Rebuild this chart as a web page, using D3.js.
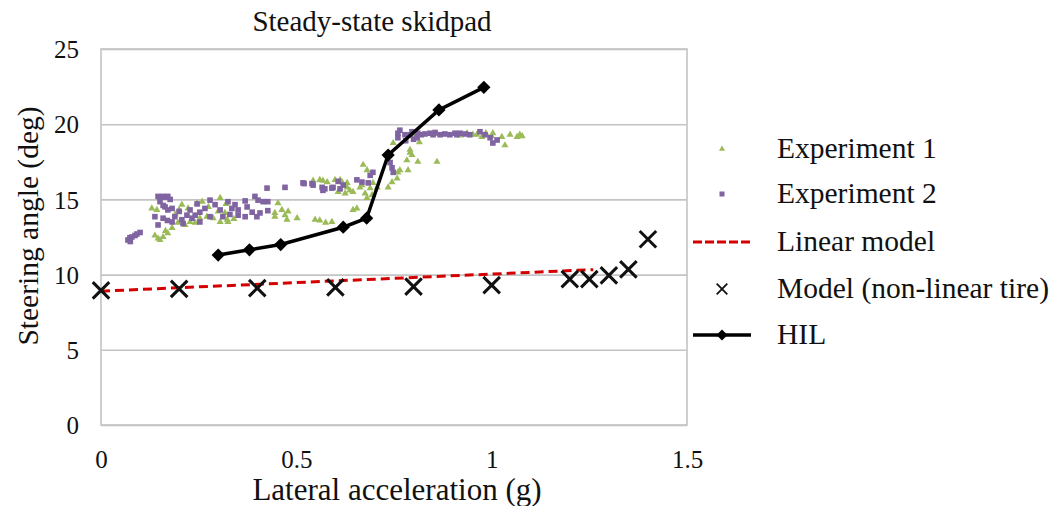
<!DOCTYPE html>
<html>
<head>
<meta charset="utf-8">
<script src="https://cdn.jsdelivr.net/npm/d3@7"></script>
<style>
  html, body { margin: 0; padding: 0; background: #fff; }
  svg text { font-family: "Liberation Serif", "DejaVu Serif", "Noto Serif", serif; fill: #111; }
</style>
</head>
<body>
<div id="chart"></div>
<script>
// ── data ───────────────────────────────────────────────────────
const X_TICKS = [0, 0.5, 1, 1.5];
const X_TICK_LABELS = ["0", "0.5", "1", "1.5"];
const Y_TICKS = [0, 5, 10, 15, 20, 25];

// Experiment 1 — [lateral acc (g), steering angle (deg)]
const EXP1 = [
  [0.13,14.4],[0.143,14.3],[0.138,12.6],[0.146,12.4],[0.159,12.5],[0.151,12.3],[0.171,12.75],
  [0.182,13.1],[0.197,13.45],[0.215,13.3],[0.228,13.5],[0.241,13.45],[0.253,13.75],[0.271,13.85],
  [0.287,13.75],[0.305,13.5],[0.323,13.65],[0.246,14.75],[0.259,14.85],[0.305,15.1],[0.207,14.65],
  [0.223,14.4],[0.19,14.0],[0.165,12.9],[0.2,14.3],[0.275,14.5],[0.34,13.7],[0.32,14.7],[0.3,14.2],
  [0.325,13.5],[0.317,14.1],[0.453,14.75],[0.463,14.3],[0.445,14.1],[0.471,13.95],[0.476,13.65],
  [0.445,13.85],[0.479,14.2],[0.502,13.75],[0.548,13.65],[0.591,13.5],[0.56,13.6],[0.575,13.45],
  [0.543,16.25],[0.568,16.25],[0.56,16.3],[0.579,16.15],[0.612,16.3],[0.63,16.1],[0.637,15.6],
  [0.645,15.5],[0.663,15.8],[0.671,17.3],[0.681,16.95],[0.668,15.95],[0.689,15.75],[0.676,15.4],
  [0.681,15.1],[0.655,14.4],[0.645,14.3],[0.599,16.3],[0.617,16.15],[0.63,15.8],[0.625,15.4],
  [0.607,15.5],[0.694,15.3],[0.707,15.8],[0.696,16.1],[0.735,15.8],[0.745,16.15],[0.758,16.4],
  [0.76,16.8],[0.765,16.95],[0.786,16.95],[0.783,17.6],[0.811,17.5],[0.796,17.95],[0.791,18.1],
  [0.791,18.3],[0.748,18.75],[0.86,17.5],[0.815,18.8],[0.8,19.3],[0.86,19.35],[0.92,19.25],
  [0.937,19.4],[0.952,19.3],[0.962,19.3],[0.975,19.15],[0.985,19.4],[1.0,19.2],[1.003,19.4],
  [1.026,19.15],[1.034,18.6],[1.047,19.3],[1.065,19.15],[1.072,19.3],[1.078,19.2]
];

// Experiment 2
const EXP2 = [
  [0.069,12.3],[0.074,12.45],[0.079,12.5],[0.087,12.6],[0.092,12.7],[0.1,12.8],[0.075,12.2],
  [0.146,15.2],[0.151,15.15],[0.159,15.2],[0.164,15.15],[0.171,15.2],[0.177,15.0],[0.151,14.85],
  [0.164,14.5],[0.171,14.3],[0.182,14.4],[0.159,14.6],[0.138,13.85],[0.159,13.75],[0.182,13.5],
  [0.189,13.85],[0.207,13.65],[0.22,13.95],[0.233,13.75],[0.241,13.95],[0.253,14.15],[0.266,14.4],
  [0.279,14.95],[0.292,14.65],[0.305,14.3],[0.312,13.85],[0.279,13.85],[0.253,13.5],[0.146,13.3],
  [0.2,14.2],[0.228,14.3],[0.246,14.7],[0.21,13.4],[0.17,13.6],[0.325,14.85],[0.343,14.65],
  [0.369,14.9],[0.394,15.2],[0.402,14.95],[0.415,14.85],[0.427,14.85],[0.335,14.4],[0.351,14.3],
  [0.374,14.5],[0.387,14.15],[0.407,14.1],[0.427,14.25],[0.351,13.95],[0.369,13.85],[0.399,13.85],
  [0.33,14.0],[0.425,15.75],[0.471,15.8],[0.52,16.05],[0.54,16.05],[0.566,15.8],[0.573,15.7],
  [0.591,15.75],[0.517,16.1],[0.543,15.95],[0.568,15.6],[0.594,15.8],[0.62,15.95],[0.607,16.2],
  [0.612,15.7],[0.655,16.3],[0.668,16.15],[0.689,16.6],[0.684,16.1],[0.696,16.8],[0.74,17.45],
  [0.745,17.1],[0.748,16.8],[0.76,19.4],[0.76,19.1],[0.765,19.6],[0.778,19.3],[0.791,19.3],
  [0.796,19.5],[0.809,19.1],[0.811,19.4],[0.82,19.3],[0.829,19.35],[0.842,19.4],[0.85,19.3],
  [0.855,19.45],[0.868,19.3],[0.88,19.35],[0.893,19.3],[0.906,19.4],[0.911,19.3],[0.919,19.4],
  [0.932,19.35],[0.944,19.3],[0.97,19.5],[0.983,19.3],[0.996,19.1],[1.003,18.75],[1.014,18.95],
  [0.78,18.9],[0.8,19.0]
];

const LINEAR_MODEL = [[0, 8.9], [1.26, 10.33]];

const MODEL_NL = [
  [0, 8.95],[0.2, 9.05],[0.4, 9.1],[0.6, 9.15],[0.8, 9.2],[1.0, 9.3],
  [1.2, 9.7],[1.25, 9.7],[1.3, 9.95],[1.35, 10.35],[1.4, 12.35]
];

const HIL = [
  [0.3, 11.3],[0.38, 11.65],[0.46, 12.0],[0.62, 13.15],[0.68, 13.75],
  [0.735, 17.95],[0.865, 20.95],[0.98, 22.45]
];

const LEGEND = ["Experiment 1", "Experiment 2", "Linear model", "Model (non-linear tire)", "HIL"];

(function () {
  const W = 1051, H = 506;
  const PLOT = { left: 101, right: 687, top: 49, bottom: 425 };

  const GREEN  = "#9bbb59";
  const PURPLE = "#8064a2";
  const RED    = "#d40000";
  const GRID   = "#c4c4c4";
  const FONT   = "'Liberation Serif', 'DejaVu Serif', 'Noto Serif', serif";

  const svg = d3.select("#chart").append("svg")
    .attr("width", W).attr("height", H)
    .attr("font-family", FONT);

  const x = d3.scaleLinear().domain([0, 1.5]).range([PLOT.left, PLOT.right]);
  const y = d3.scaleLinear().domain([0, 25]).range([PLOT.bottom, PLOT.top]);

  // ── gridlines + frame ──
  svg.append("g")
    .attr("transform", `translate(${PLOT.left},0)`)
    .call(d3.axisLeft(y).tickValues(Y_TICKS).tickSize(-(PLOT.right - PLOT.left)).tickFormat(""))
    .call(g => g.select(".domain").remove())
    .call(g => g.selectAll("line").attr("stroke", GRID).attr("stroke-width", 1.6));

  svg.append("rect")
    .attr("x", PLOT.left).attr("y", PLOT.top)
    .attr("width", PLOT.right - PLOT.left).attr("height", PLOT.bottom - PLOT.top)
    .attr("fill", "none").attr("stroke", GRID).attr("stroke-width", 1.6);

  // ── tick labels ──
  svg.append("g")
    .attr("transform", `translate(0,${PLOT.bottom + 40})`)
    .call(d3.axisBottom(x).tickValues(X_TICKS).tickSize(0).tickFormat((d, i) => X_TICK_LABELS[i]))
    .call(g => g.attr("font-family", FONT).select(".domain").remove())
    .call(g => g.selectAll("text").attr("font-size", 25).attr("dy", 0));

  svg.append("g")
    .attr("transform", `translate(${PLOT.left - 19},0)`)
    .call(d3.axisLeft(y).tickValues(Y_TICKS).tickSize(0))
    .call(g => g.attr("font-family", FONT).select(".domain").remove())
    .call(g => g.selectAll("text").attr("font-size", 25).attr("dy", "0.35em"));

  // ── titles ──
  svg.append("text")
    .attr("x", 372).attr("y", 31)
    .attr("text-anchor", "middle").attr("font-size", 29)
    .text("Steady-state skidpad");

  svg.append("text")
    .attr("x", 397).attr("y", 500)
    .attr("text-anchor", "middle").attr("font-size", 31)
    .text("Lateral acceleration (g)");

  svg.append("text")
    .attr("transform", "rotate(-90)")
    .attr("x", -226).attr("y", 38)
    .attr("text-anchor", "middle").attr("font-size", 29.5)
    .text("Steering angle (deg)");

  // ── marker shapes ──
  const triangle = d3.symbol().type(d3.symbolTriangle).size(22);
  const cross = d3.symbol().type(d3.symbolX).size(180);
  const diamond = d3.symbol().type(d3.symbolSquare).size(88);   // rotated 45° below

  // Experiment 1
  svg.append("g").selectAll("path").data(EXP1).join("path")
    .attr("d", triangle)
    .attr("transform", d => `translate(${x(d[0])},${y(d[1])})`)
    .attr("fill", GREEN);

  // Experiment 2
  svg.append("g").selectAll("rect").data(EXP2).join("rect")
    .attr("x", d => x(d[0]) - 2.8).attr("y", d => y(d[1]) - 2.8)
    .attr("width", 5.6).attr("height", 5.6)
    .attr("fill", PURPLE);

  // Linear model
  const line = d3.line().x(d => x(d[0])).y(d => y(d[1]));
  svg.append("path")
    .datum(LINEAR_MODEL)
    .attr("d", line)
    .attr("fill", "none").attr("stroke", RED)
    .attr("stroke-width", 3).attr("stroke-dasharray", "9,5");

  // Model (non-linear tire)
  svg.append("g").selectAll("path").data(MODEL_NL).join("path")
    .attr("d", cross)
    .attr("transform", d => `translate(${x(d[0])},${y(d[1])})`)
    .attr("fill", "none").attr("stroke", "#111").attr("stroke-width", 3);

  // HIL
  svg.append("path")
    .datum(HIL)
    .attr("d", line)
    .attr("fill", "none").attr("stroke", "#000").attr("stroke-width", 3.5);

  svg.append("g").selectAll("path").data(HIL).join("path")
    .attr("d", diamond)
    .attr("transform", d => `translate(${x(d[0])},${y(d[1])}) rotate(45)`)
    .attr("fill", "#000");

  // ── legend ──
  const LEG_X = 722, TXT_X = 777;
  const LEG_Y = [149, 194, 242, 289, 335];
  const leg = svg.append("g");

  LEGEND.forEach((label, i) => {
    leg.append("text")
      .attr("x", TXT_X).attr("y", LEG_Y[i])
      .attr("dy", "0.32em").attr("font-size", 29.5)
      .text(label);
  });

  leg.append("path").attr("d", d3.symbol().type(d3.symbolTriangle).size(16))
    .attr("transform", `translate(${LEG_X},${LEG_Y[0]})`).attr("fill", GREEN);
  leg.append("rect")
    .attr("x", LEG_X - 2.5).attr("y", LEG_Y[1] - 2.5).attr("width", 5).attr("height", 5)
    .attr("fill", PURPLE);
  leg.append("line")
    .attr("x1", LEG_X - 29).attr("x2", LEG_X + 29)
    .attr("y1", LEG_Y[2]).attr("y2", LEG_Y[2])
    .attr("stroke", RED).attr("stroke-width", 3).attr("stroke-dasharray", "9,3");
  leg.append("path").attr("d", d3.symbol().type(d3.symbolX).size(75))
    .attr("transform", `translate(${LEG_X},${LEG_Y[3]})`)
    .attr("fill", "none").attr("stroke", "#111").attr("stroke-width", 1.8);
  leg.append("line")
    .attr("x1", LEG_X - 29).attr("x2", LEG_X + 29)
    .attr("y1", LEG_Y[4]).attr("y2", LEG_Y[4])
    .attr("stroke", "#000").attr("stroke-width", 3.5);
  leg.append("path").attr("d", d3.symbol().type(d3.symbolSquare).size(60))
    .attr("transform", `translate(${LEG_X},${LEG_Y[4]}) rotate(45)`).attr("fill", "#000");
})();
</script>
</body>
</html>
